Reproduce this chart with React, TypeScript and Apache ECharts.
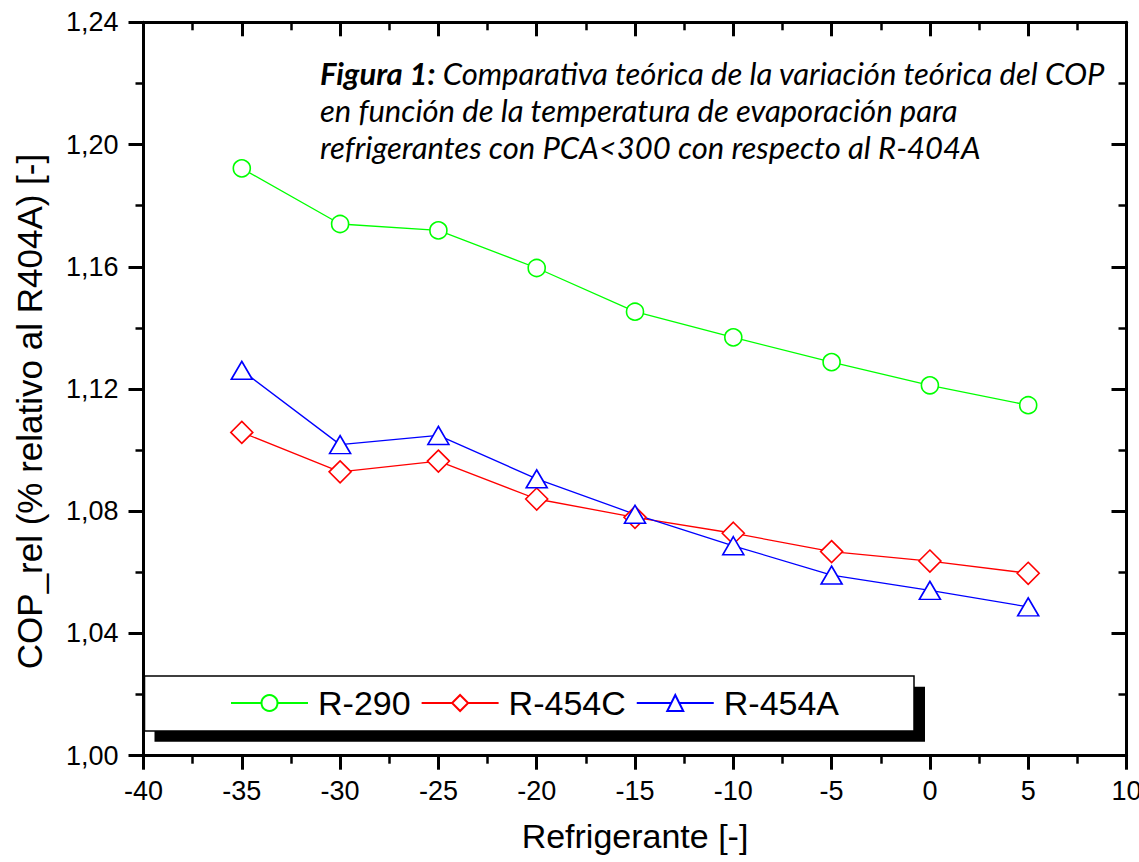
import React, { useEffect, useRef } from "react";
import * as echarts from "echarts";

const temps = [-35, -30, -25, -20, -15, -10, -5, 0, 5];
const r290 = [1.1922, 1.174, 1.1719, 1.1596, 1.1453, 1.1369, 1.1288, 1.1212, 1.1147];
const r454c = [1.1058, 1.0929, 1.0964, 1.084, 1.078, 1.0728, 1.0668, 1.0637, 1.0597];
const r454a = [1.1261, 1.1018, 1.1048, 1.0906, 1.079, 1.0687, 1.0591, 1.0541, 1.0487];
const seriesNames = ["R-290", "R-454C", "R-454A"];
const xAxisTitle = "Refrigerante [-]";
const yAxisTitle = "COP_rel (% relativo al R404A) [-]";
const titleLines = [
  "Comparativa teórica de la variación teórica del COP",
  "en función de la temperatura de evaporación para",
  "refrigerantes con PCA<300 con respecto al R-404A",
];

const FONT = "'Liberation Sans', Arial, sans-serif";
const W = 1139;
const H = 862;

export default function App() {
  const ref = useRef<HTMLDivElement>(null);
  useEffect(() => {
    if (!ref.current) return;
    const chart = echarts.init(ref.current, undefined, { renderer: "svg", width: W, height: H });
    const pair = (ys: number[]) => temps.map((t, i) => [t, ys[i]]);
    const axisLine = { show: true, onZero: false, lineStyle: { color: "#000", width: 3 } };
    const mkSeries = (name: string, data: number[], color: string, symbol: string, size: any) => ({
      name,
      type: "line",
      data: pair(data),
      symbol,
      symbolSize: size,
      showSymbol: true,
      lineStyle: { color, width: 1.3 },
      itemStyle: { color: "#fff", borderColor: color, borderWidth: 1.6 },
      emphasis: { disabled: true },
      z: 3,
    });
    const titleStyle = (bold: boolean) => ({
      fontFamily: "Lato",
      fontStyle: "italic",
      fontWeight: bold ? "bold" : "normal",
      fontSize: 31,
      lineHeight: 37,
      color: "#000",
    });
    chart.setOption({
      animation: false,
      backgroundColor: "#fff",
      title: {
        text:
          "{b|Figura 1:}{i| " + titleLines[0] + "}\n{i|" + titleLines[1] + "}\n{i|" + titleLines[2] + "}",
        left: 320,
        top: 54,
        padding: 0,
        textStyle: {
          ...titleStyle(false),
          rich: { b: titleStyle(true), i: titleStyle(false) },
        },
      },
      grid: {
        left: 143.5,
        width: 983,
        top: 22.3,
        height: 733.4,
        containLabel: false,
        outerBoundsMode: "none",
      },
      legend: {
        left: 230,
        top: 686,
        itemWidth: 77,
        itemHeight: 20,
        itemGap: 10,
        padding: 0,
        selectedMode: false,
        data: seriesNames,
        textStyle: { fontFamily: FONT, fontSize: 34, color: "#000", padding: [0, 0, 0, 5] },
      },
      xAxis: [
        {
          type: "value",
          min: -40,
          max: 10,
          interval: 5,
          position: "bottom",
          name: xAxisTitle,
          nameLocation: "middle",
          nameGap: 63,
          nameTextStyle: { fontFamily: FONT, fontSize: 34, color: "#000" },
          axisLine,
          axisTick: { show: true, inside: false, length: 14, lineStyle: { color: "#000", width: 3 } },
          minorTick: { show: true, splitNumber: 2, length: 8, lineStyle: { color: "#000", width: 2.5 } },
          axisLabel: { fontFamily: FONT, fontSize: 27, color: "#000", margin: 22, formatter: (v: number) => String(v) },
          splitLine: { show: false },
        },
        {
          type: "value",
          min: -40,
          max: 10,
          interval: 5,
          position: "top",
          axisLine,
          axisTick: { show: true, inside: true, length: 14, lineStyle: { color: "#000", width: 3 } },
          minorTick: { show: true, splitNumber: 2, length: 8, lineStyle: { color: "#000", width: 2.5 } },
          axisLabel: { show: false },
          splitLine: { show: false },
        },
      ],
      yAxis: [
        {
          type: "value",
          min: 1.0,
          max: 1.24,
          interval: 0.04,
          position: "left",
          axisLine,
          axisTick: { show: true, inside: false, length: 15, lineStyle: { color: "#000", width: 3 } },
          minorTick: { show: true, splitNumber: 2, length: 8, lineStyle: { color: "#000", width: 2.5 } },
          axisLabel: {
            fontFamily: FONT,
            fontSize: 27,
            color: "#000",
            margin: 25,
            formatter: (v: number) => v.toFixed(2).replace(".", ","),
          },
          splitLine: { show: false },
        },
        {
          type: "value",
          min: 1.0,
          max: 1.24,
          interval: 0.04,
          position: "right",
          axisLine,
          axisTick: { show: true, inside: true, length: 15, lineStyle: { color: "#000", width: 3 } },
          minorTick: { show: true, splitNumber: 2, length: 8, lineStyle: { color: "#000", width: 2.5 } },
          axisLabel: { show: false },
          splitLine: { show: false },
        },
      ],
      graphic: {
        elements: [
          {
            type: "rect",
            z: 1,
            shape: { x: 154.5, y: 686.7, width: 770.5, height: 55 },
            style: { fill: "#000" },
          },
          {
            type: "rect",
            z: 1,
            shape: { x: 144.5, y: 676, width: 769.5, height: 55 },
            style: { fill: "#fff", stroke: "#000", lineWidth: 1.5 },
          },
          {
            type: "text",
            z: 1,
            x: 29,
            y: 411.5,
            rotation: Math.PI / 2,
            style: {
              text: yAxisTitle,
              fontFamily: FONT,
              fontSize: 35,
              fill: "#000",
              align: "center",
              verticalAlign: "middle",
            },
          },
        ],
      },
      series: [
        mkSeries(seriesNames[0], r290, "#00ff00", "circle", 17),
        mkSeries(seriesNames[1], r454c, "#ff0000", "diamond", 22),
        mkSeries(seriesNames[2], r454a, "#0000ff", "triangle", [21, 18]),
      ],
    });
    return () => chart.dispose();
  }, []);
  return (
    <div
      ref={ref}
      style={{ position: "absolute", left: 0, top: 0, width: W, height: H, overflow: "hidden" }}
    />
  );
}
